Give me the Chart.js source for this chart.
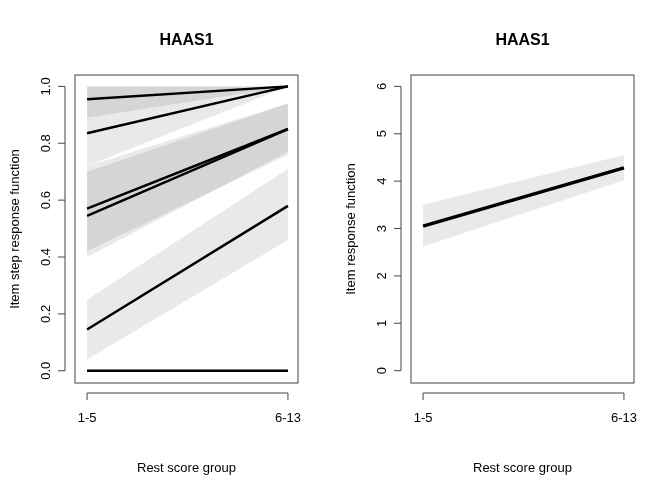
<!DOCTYPE html>
<html>
<head>
<script src="https://cdn.jsdelivr.net/npm/chart.js@4.4.0/dist/chart.umd.min.js"></script>
<style>
  body { margin: 0; background: #fff; }
  .box { position: absolute; top: 0; width: 336px; height: 480px; }
</style>
</head>
<body>
<div class="box" style="left:0"><canvas id="left"></canvas></div>
<div class="box" style="left:336px"><canvas id="right"></canvas></div>
<script>
// categories on the x axis
var groups = ['1-5', '6-13'];

// item step response functions (left panel), value at group 1 and group 2
var stepLines = [
  [0.955, 1.0],
  [0.835, 1.0],
  [0.57, 0.85],
  [0.545, 0.85],
  [0.145, 0.58],
  [0.0, 0.0]
];
var stepLower = [
  [0.89, 1.0],
  [0.72, 1.0],
  [0.42, 0.76],
  [0.40, 0.77],
  [0.04, 0.46],
  [0.0, 0.0]
];
var stepUpper = [
  [1.0, 1.0],
  [1.0, 1.0],
  [0.70, 0.94],
  [0.72, 0.94],
  [0.25, 0.71],
  [0.0, 0.0]
];

// item response function (right panel)
var irfLine = [3.05, 4.28];
var irfLower = [2.62, 4.02];
var irfUpper = [3.50, 4.55];

var leftTicks = [0, 0.2, 0.4, 0.6, 0.8, 1.0];
var rightTicks = [0, 1, 2, 3, 4, 5, 6];

var FONT = 'Liberation Sans, Arial, sans-serif';

function pts(arr) {
  return arr.map(function (v, i) { return { x: i + 1, y: v }; });
}

// R style box, detached axes, rotated y labels and title
var boxPlugin = {
  id: 'box',
  afterDraw: function (chart) {
    var ctx = chart.ctx, a = chart.chartArea;
    var ys = chart.scales.y, xs = chart.scales.x;
    var yt = chart.options.plugins.box.ticks, dec = chart.options.plugins.box.dec;
    ctx.save();
    ctx.strokeStyle = '#444';
    ctx.lineWidth = 1;
    ctx.strokeRect(a.left, a.top, a.right - a.left, a.bottom - a.top);
    var ax = a.left - 10, ay = a.bottom + 10;
    ctx.beginPath();
    ctx.moveTo(ax, ys.getPixelForValue(yt[0]));
    ctx.lineTo(ax, ys.getPixelForValue(yt[yt.length - 1]));
    yt.forEach(function (v) {
      var p = ys.getPixelForValue(v);
      ctx.moveTo(ax, p); ctx.lineTo(ax - 7, p);
    });
    ctx.moveTo(xs.getPixelForValue(1), ay);
    ctx.lineTo(xs.getPixelForValue(2), ay);
    [1, 2].forEach(function (v) {
      var p = xs.getPixelForValue(v);
      ctx.moveTo(p, ay); ctx.lineTo(p, ay + 7);
    });
    ctx.stroke();

    ctx.fillStyle = '#000';
    ctx.font = '13px ' + FONT;
    ctx.textAlign = 'center';
    ctx.textBaseline = 'middle';
    [1, 2].forEach(function (v) {
      ctx.fillText(groups[v - 1], xs.getPixelForValue(v), ay + 25);
    });
    yt.forEach(function (v) {
      ctx.save();
      ctx.translate(ax - 19, ys.getPixelForValue(v));
      ctx.rotate(-Math.PI / 2);
      ctx.fillText(dec ? v.toFixed(1) : String(v), 0, 0);
      ctx.restore();
    });
    ctx.font = 'bold 16px ' + FONT;
    ctx.fillText('HAAS1', (a.left + a.right) / 2, 41);
    ctx.restore();
  }
};

function makeChart(id, lines, lowers, uppers, ticks, ymin, ymax, ytitle, lw, dec) {
  var datasets = [];
  for (var i = 0; i < lines.length; i++) {
    datasets.push({ data: pts(lowers[i]), borderWidth: 0, pointRadius: 0, fill: false, order: 10 });
    datasets.push({ data: pts(uppers[i]), borderWidth: 0, pointRadius: 0,
      fill: '-1', backgroundColor: 'rgba(0,0,0,0.085)', order: 10 });
  }
  for (var j = 0; j < lines.length; j++) {
    datasets.push({ data: pts(lines[j]), borderColor: '#000', borderWidth: lw,
      pointRadius: 0, fill: false, order: 1 });
  }
  var font = { family: FONT, size: 13 };
  return new Chart(document.getElementById(id), {
    type: 'line',
    data: { datasets: datasets },
    plugins: [boxPlugin],
    options: {
      responsive: false,
      animation: false,
      devicePixelRatio: 1,
      layout: { padding: { left: 6, right: 38, top: 75, bottom: 0 } },
      plugins: {
        legend: { display: false },
        tooltip: { enabled: false },
        title: { display: false },
        box: { ticks: ticks, dec: dec }
      },
      scales: {
        x: {
          type: 'linear', min: 0.94, max: 2.05,
          ticks: { display: false },
          grid: { display: false },
          border: { display: false },
          title: { display: true, text: 'Rest score group', color: '#000', font: font },
          afterFit: function (s) { s.height = 97; }
        },
        y: {
          min: ymin, max: ymax,
          ticks: { display: false },
          grid: { display: false },
          border: { display: false },
          title: { display: true, text: ytitle, color: '#000', font: font, padding: 2 },
          afterFit: function (s) { s.width = 69; }
        }
      }
    }
  });
}

['left', 'right'].forEach(function (id) {
  document.getElementById(id).width = 336;
  document.getElementById(id).height = 480;
});

makeChart('left', stepLines, stepLower, stepUpper, leftTicks, -0.043, 1.04,
  'Item step response function', 2.5, true);
makeChart('right', [irfLine], [irfLower], [irfUpper], rightTicks, -0.26, 6.24,
  'Item response function', 3.5, false);
</script>
</body>
</html>
